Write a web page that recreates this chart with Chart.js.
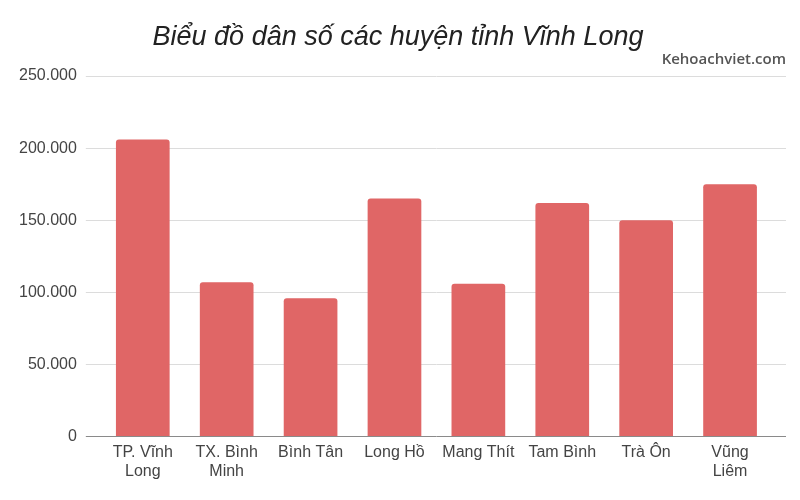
<!DOCTYPE html>
<html>
<head>
<meta charset="utf-8">
<script src="https://cdn.jsdelivr.net/npm/chart.js@4.4.1/dist/chart.umd.min.js"></script>
<style>
    html, body { margin: 0; padding: 0; background: #ffffff; }
    #wrap { width: 800px; height: 500px; }
</style>
</head>
<body>
<div id="wrap"><canvas id="danSoChart" width="800" height="500"></canvas></div>
<script>
// chart data
const titleText = 'Biểu đồ dân số các huyện tỉnh Vĩnh Long';
const watermarkText = 'Kehoachviet.com';
const huyenLabels = [
    ['TP. Vĩnh', 'Long'],
    ['TX. Bình', 'Minh'],
    'Bình Tân',
    'Long Hồ',
    'Mang Thít',
    'Tam Bình',
    'Trà Ôn',
    ['Vũng', 'Liêm'],
];
const danSoValues = [206000, 107000, 96000, 165000, 106000, 162000, 150000, 175000];
const yTicks = [0, 50000, 100000, 150000, 200000, 250000];

// 250000 -> "250.000"
function formatSo(v) {
    return String(v).replace(/\B(?=(\d{3})+(?!\d))/g, '.');
}

function gridColor(ctx) {
    return ctx.tick && ctx.tick.value === 0 ? '#8a8a8a' : '#dcdcdc';
}

const ctx = document.getElementById('danSoChart').getContext('2d');

const danSoChart = new Chart(ctx, {
    type: 'bar',
    data: {
        labels: huyenLabels,
        datasets: [{
            label: 'Dân số',
            data: danSoValues,
            backgroundColor: '#e06666',
            borderRadius: 3,
            categoryPercentage: 1.0,
            barPercentage: 0.64,
        }],
    },
    options: {
        responsive: false,
        animation: false,
        layout: { padding: { top: 0, left: 10, right: 14, bottom: 13 } },
        plugins: {
            legend: { display: false },
            tooltip: { enabled: false },
            title: {
                display: true,
                text: titleText,
                color: '#222222',
                font: { family: 'Liberation Sans, Arial, sans-serif', size: 27, style: 'italic', weight: 'normal', lineHeight: 1.0 },
                padding: { top: 24, bottom: 0 },
            },
            subtitle: {
                display: true,
                text: watermarkText,
                align: 'end',
                color: '#555555',
                font: { family: 'Open Sans, sans-serif', size: 15, weight: '600' },
                padding: { top: 0, bottom: 7 },
            },
        },
        scales: {
            x: {
                grid: { display: false, drawTicks: false },
                border: { display: false },
                ticks: {
                    color: '#444444',
                    padding: 6,
                    maxRotation: 0,
                    autoSkip: false,
                    font: { family: 'Liberation Sans, Arial, sans-serif', size: 16 },
                },
            },
            y: {
                min: 0,
                max: 250000,
                afterBuildTicks: axis => { axis.ticks = yTicks.map(v => ({ value: v })); },
                grid: { color: gridColor, lineWidth: 1, tickLength: 15 },
                border: { display: false },
                ticks: {
                    color: '#444444',
                    padding: 9,
                    font: { family: 'Liberation Sans, Arial, sans-serif', size: 16 },
                    callback: v => formatSo(v),
                },
            },
            // right-side axis only to extend grid lines past the last bar
            yRight: {
                position: 'right',
                min: 0,
                max: 250000,
                afterBuildTicks: axis => { axis.ticks = yTicks.map(v => ({ value: v })); },
                grid: { color: gridColor, lineWidth: 1, tickLength: 14, drawOnChartArea: false },
                border: { display: false },
                ticks: { display: false },
            },
        },
    },
});
</script>
</body>
</html>
